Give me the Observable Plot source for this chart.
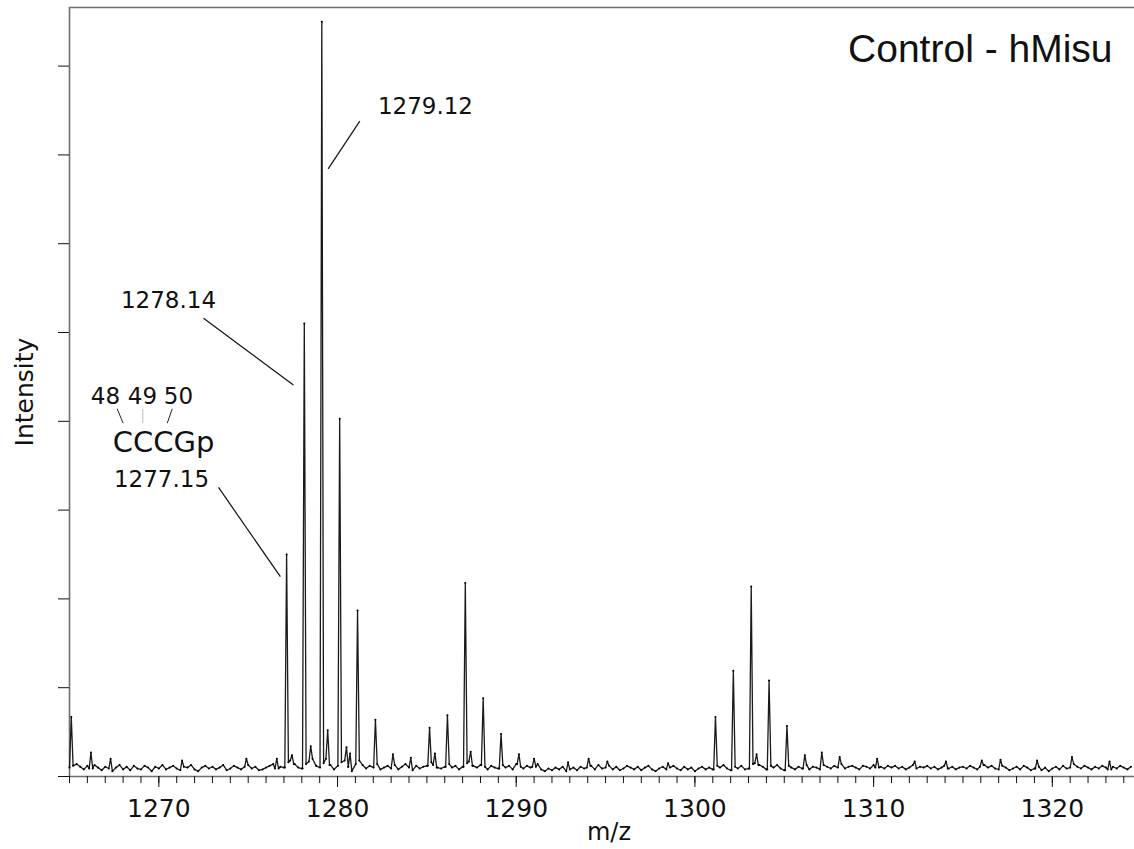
<!DOCTYPE html>
<html><head><meta charset="utf-8">
<script src="https://cdn.jsdelivr.net/npm/d3@7"></script>
<script src="https://cdn.jsdelivr.net/npm/@observablehq/plot@0.6"></script>
<style>html,body{margin:0;padding:0;background:#fff;} svg{display:block}</style>
</head><body><div id="chart"></div>
<script>
const title = "Control - hMisu";
const xLabel = "m/z";
const yLabel = "Intensity";
const mzTicks = [1270, 1280, 1290, 1300, 1310, 1320];
const mzMinorTicks = d3.range(1265, 1325, 1);
const intensityTicks = [0, 1, 2, 3, 4, 5, 6, 7, 8];

// noise baseline, one value every 0.2 m/z from 1265.0
const baselineStart = 1265.0;
const baselineStep = 0.2;
const baseline = [
  0.10,0.12,0.14,0.11,0.08,0.12,0.09,0.13,0.10,0.07,
  0.11,0.09,0.06,0.10,0.13,0.08,0.11,0.07,0.12,0.09,
  0.08,0.12,0.10,0.06,0.11,0.09,0.13,0.08,0.10,0.12,
  0.09,0.07,0.11,0.10,0.13,0.08,0.06,0.10,0.12,0.09,
  0.11,0.08,0.10,0.13,0.07,0.09,0.12,0.10,0.08,0.11,
  0.13,0.09,0.11,0.07,0.08,0.10,0.12,0.14,0.09,0.11,
  0.10,0.16,0.18,0.14,0.10,0.09,0.14,0.17,0.20,0.12,
  0.10,0.15,0.20,0.13,0.08,0.12,0.16,0.18,0.11,0.06,
  0.14,0.18,0.13,0.09,0.12,0.10,0.14,0.08,0.10,0.12,
  0.09,0.13,0.08,0.11,0.14,0.10,0.07,0.12,0.09,0.11,
  0.12,0.16,0.13,0.10,0.09,0.11,0.14,0.10,0.12,0.08,
  0.11,0.15,0.17,0.12,0.10,0.13,0.11,0.08,0.12,0.10,
  0.09,0.13,0.10,0.12,0.08,0.14,0.11,0.09,0.12,0.10,
  0.11,0.14,0.08,0.06,0.09,0.07,0.10,0.08,0.11,0.06,
  0.08,0.10,0.07,0.11,0.09,0.10,0.12,0.08,0.13,0.09,
  0.10,0.12,0.08,0.11,0.07,0.09,0.12,0.10,0.08,0.11,
  0.07,0.10,0.12,0.08,0.06,0.09,0.11,0.08,0.10,0.12,
  0.09,0.07,0.11,0.08,0.10,0.06,0.09,0.11,0.08,0.10,
  0.08,0.12,0.10,0.13,0.09,0.07,0.11,0.09,0.12,0.08,
  0.09,0.14,0.15,0.13,0.11,0.08,0.12,0.10,0.13,0.09,
  0.07,0.12,0.10,0.08,0.11,0.09,0.13,0.08,0.11,0.10,
  0.08,0.13,0.11,0.09,0.12,0.10,0.14,0.09,0.11,0.12,
  0.10,0.08,0.12,0.11,0.09,0.13,0.10,0.11,0.09,0.12,
  0.10,0.12,0.09,0.11,0.08,0.10,0.13,0.09,0.11,0.10,
  0.12,0.09,0.11,0.08,0.10,0.12,0.09,0.11,0.08,0.10,
  0.11,0.09,0.12,0.10,0.08,0.11,0.13,0.10,0.12,0.09,
  0.08,0.12,0.10,0.07,0.09,0.11,0.08,0.12,0.10,0.07,
  0.09,0.11,0.07,0.10,0.06,0.09,0.11,0.08,0.12,0.09,
  0.10,0.14,0.11,0.09,0.12,0.10,0.08,0.11,0.09,0.12,
  0.10,0.08,0.11,0.09,0.12,0.10,0.08,0.11
];

// peaks (m/z, apex intensity)
const peakMz = [
  1265.10, 1266.20, 1267.30, 1271.30, 1274.90, 1276.60,
  1277.15, 1277.45, 1278.14, 1278.50, 1279.12, 1279.45,
  1280.12, 1280.50, 1280.70, 1281.12, 1282.12, 1283.10, 1284.10,
  1285.15, 1285.45, 1286.15, 1287.15, 1287.45, 1288.15, 1289.15,
  1290.15, 1291.00, 1292.90, 1294.05, 1295.10, 1298.50,
  1301.15, 1302.15, 1303.15, 1303.45, 1304.15, 1305.15, 1306.15,
  1307.10, 1308.10, 1310.20, 1312.30, 1314.05, 1316.05, 1317.10,
  1319.15, 1321.10, 1323.20
];
const peakIntensity = [
  0.67, 0.27, 0.20, 0.18, 0.20, 0.20,
  2.50, 0.24, 5.10, 0.34, 8.50, 0.52,
  4.03, 0.33, 0.26, 1.87, 0.64, 0.25, 0.21,
  0.55, 0.26, 0.69, 2.18, 0.28, 0.88, 0.48,
  0.25, 0.20, 0.16, 0.20, 0.17, 0.15,
  0.67, 1.19, 2.14, 0.25, 1.08, 0.57, 0.24,
  0.27, 0.22, 0.20, 0.17, 0.17, 0.18, 0.19,
  0.18, 0.22, 0.17
];

// annotations
const peakLabels = ["1279.12", "1278.14", "1277.15"];
const peakLabelMz = [1284.92, 1270.54, 1270.15];
const peakLabelY = [7.545, 5.36, 3.345];
const leaderMz1 = [1281.245, 1272.50, 1273.34];
const leaderY1 = [7.380, 5.16, 3.255];
const leaderMz2 = [1279.477, 1277.53, 1276.80];
const leaderY2 = [6.843, 4.41, 2.25];
const sequenceText = "CCCGp";
const positionLabels = ["48", "49", "50"];
const positionMz = [1267.01, 1269.085, 1271.10];
const positionTickMz1 = [1267.67, 1269.10, 1270.75];
const positionTickMz2 = [1268.00, 1269.10, 1270.47];

// build spectrum table
const spectrum = [];
baseline.forEach((v, i) => {
  const mz = baselineStart + i * baselineStep;
  if (peakMz.every(c => Math.abs(mz - c) > 0.13)) spectrum.push({mz, intensity: v});
});
const baseAt = mz => baseline[Math.max(0, Math.min(baseline.length - 1, Math.round((mz - baselineStart) / baselineStep)))];
peakMz.forEach((c, i) => {
  spectrum.push({mz: Math.max(1265, c - 0.1), intensity: baseAt(c - 0.1)});
  spectrum.push({mz: c, intensity: peakIntensity[i]});
  spectrum.push({mz: c + 0.1, intensity: baseAt(c + 0.1)});
});
spectrum.sort((a, b) => a.mz - b.mz);

const labels = peakLabels.map((t, i) => ({t, x: peakLabelMz[i], y: peakLabelY[i]}));
const leaders = leaderMz1.map((x1, i) => ({x1, y1: leaderY1[i], x2: leaderMz2[i], y2: leaderY2[i]}));
const positions = positionLabels.map((t, i) => ({t, x: positionMz[i], x1: positionTickMz1[i], x2: positionTickMz2[i], gray: t === "49"}));

const xMax = 1324.6, yMax = 8.66;
const font = "DejaVu Sans";

const chart = Plot.plot({
  width: 1134, height: 849,
  marginLeft: 69, marginRight: 0, marginTop: 7, marginBottom: 73,
  x: {domain: [1265, xMax]},
  y: {domain: [0, yMax]},
  style: {fontFamily: font, color: "#111", background: "#fff"},
  marks: [
    Plot.ruleX([1265], {y1: 0, y2: yMax, stroke: "#6e6e6e", strokeWidth: 1.6}),
    Plot.ruleY([yMax], {x1: 1265, x2: xMax, stroke: "#6e6e6e", strokeWidth: 1.6}),
    Plot.ruleY([0], {x1: 1265, x2: xMax, stroke: "#6e6e6e", strokeWidth: 1.6}),
    Plot.axisY({ticks: intensityTicks, tickSize: 11, tickFormat: () => "", label: null, stroke: "#111"}),
    Plot.axisX({ticks: mzMinorTicks, tickSize: 7, tickFormat: () => "", label: null, stroke: "#111"}),
    Plot.axisX({ticks: mzTicks, tickSize: 11, tickPadding: 12, fontSize: 25, tickFormat: d => String(d), label: null, stroke: "#111", fill: "#111"}),
    Plot.line(spectrum, {x: "mz", y: "intensity", stroke: "#1a1a1a", strokeWidth: 1.3}),
    Plot.dot(spectrum, {x: "mz", y: "intensity", r: 1, fill: "#000"}),
    Plot.link(leaders, {x1: "x1", y1: "y1", x2: "x2", y2: "y2", stroke: "#111", strokeWidth: 1.2}),
    Plot.text(labels, {x: "x", y: "y", text: "t", fontSize: 23, fill: "#111", textAnchor: "middle", lineAnchor: "middle"}),
    Plot.text(positions, {x: "x", y: 4.279, text: "t", fontSize: 23, fill: "#111", lineAnchor: "middle"}),
    Plot.link(positions, {x1: "x1", x2: "x2", y1: 4.141, y2: 3.979, stroke: d => d.gray ? "#bbb" : "#222", strokeWidth: 1}),
    Plot.text([sequenceText], {x: 1270.26, y: 3.761, fontSize: 29, fill: "#111", lineAnchor: "middle"}),
    Plot.text([title], {frameAnchor: "top-right", dx: -22, dy: 42, fontSize: 39, fontFamily: "Liberation Sans", fill: "#111", textAnchor: "end", lineAnchor: "middle"}),
    Plot.text([yLabel], {frameAnchor: "left", dx: -45, rotate: -90, fontSize: 25, fill: "#111", textAnchor: "middle", lineAnchor: "middle"}),
    Plot.text([xLabel], {frameAnchor: "bottom", dx: 7, dy: 56, fontSize: 24, fill: "#111", lineAnchor: "middle"})
  ]
});
document.getElementById("chart").appendChild(chart);
</script>
</body></html>
